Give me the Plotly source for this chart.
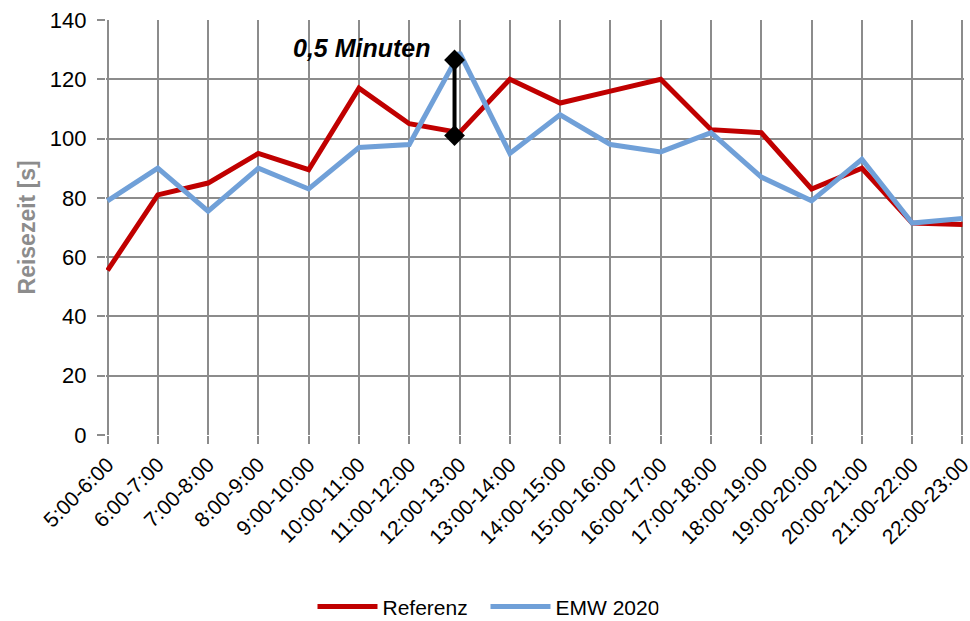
import plotly.graph_objects as go

categories = ["5:00-6:00", "6:00-7:00", "7:00-8:00", "8:00-9:00", "9:00-10:00",
              "10:00-11:00", "11:00-12:00", "12:00-13:00", "13:00-14:00", "14:00-15:00",
              "15:00-16:00", "16:00-17:00", "17:00-18:00", "18:00-19:00", "19:00-20:00",
              "20:00-21:00", "21:00-22:00", "22:00-23:00"]
referenz = [55.5, 81, 85, 95, 89.5, 117, 105, 102, 120, 112, 116, 120, 103, 102, 83, 90, 71.5, 71]
emw2020 = [79, 90, 75.5, 90, 83, 97, 98, 129, 95, 108, 98, 95.5, 102, 87, 79, 93, 71.5, 73]
y_ticks = [0, 20, 40, 60, 80, 100, 120, 140]
y_title = "Reisezeit [s]"

# annotation (difference marker)
anno_x = 6.9
anno_low = 101
anno_high = 126.5
anno_text = "0,5 Minuten"

FONT = "Liberation Sans, Arial"
xs = list(range(len(categories)))

fig = go.Figure()
fig.add_trace(go.Scatter(x=xs, y=referenz, mode="lines", name="Referenz",
                         line=dict(color="#C00000", width=5)))
fig.add_trace(go.Scatter(x=xs, y=emw2020, mode="lines", name="EMW 2020",
                         line=dict(color="#70A0D8", width=5)))
fig.add_trace(go.Scatter(x=[anno_x, anno_x], y=[anno_low, anno_high], mode="lines+markers",
                         showlegend=False, hoverinfo="skip",
                         line=dict(color="black", width=4),
                         marker=dict(symbol="diamond", size=16, color="black"),
                         cliponaxis=False))
fig.add_annotation(x=anno_x - 0.43, y=anno_high + 4.1, xref="x", yref="y",
                   text="<b><i>" + anno_text + "</i></b>",
                   showarrow=False, xanchor="right", yanchor="middle",
                   font=dict(family=FONT, size=25, color="black"))
# y-axis title
fig.add_annotation(x=-0.0921, y=0.5, xref="paper", yref="paper",
                   text="<b>" + y_title + "</b>", textangle=-90,
                   showarrow=False, xanchor="center", yanchor="middle",
                   font=dict(family=FONT, size=23, color="#8C8C8C"))

fig.update_layout(
    width=970, height=621,
    margin=dict(l=106, r=6, t=20, b=186, autoexpand=False),
    plot_bgcolor="white", paper_bgcolor="white",
    font=dict(family=FONT, size=20, color="black"),
    showlegend=True,
    legend=dict(orientation="h", x=0.4423, xanchor="center",
                y=-0.414, yanchor="middle",
                font=dict(family=FONT, size=21), itemwidth=60,
                entrywidth=98, entrywidthmode="pixels"),
    xaxis=dict(range=[-0.03, 17.03], tickvals=xs, ticktext=categories, tickangle=-45,
               showgrid=True, gridcolor="#8C8C8C", gridwidth=2,
               showline=False, automargin=False,
               ticks="outside", ticklen=8, tickwidth=2, tickcolor="#8C8C8C",
               tickfont=dict(family=FONT, size=21), zeroline=False,
               ticklabeloverflow="allow"),
    yaxis=dict(range=[0, 140], tickvals=y_ticks,
               ticktext=[str(v) + "\u00a0" for v in y_ticks],
               showgrid=True, gridcolor="#8C8C8C", gridwidth=2,
               showline=False, automargin=False,
               ticks="outside", ticklen=8, tickwidth=2, tickcolor="#8C8C8C",
               tickfont=dict(family=FONT, size=22), zeroline=False),
)
fig.write_html("out.html", config={"displayModeBar": False},
               post_script="document.body.style.margin='0';")
